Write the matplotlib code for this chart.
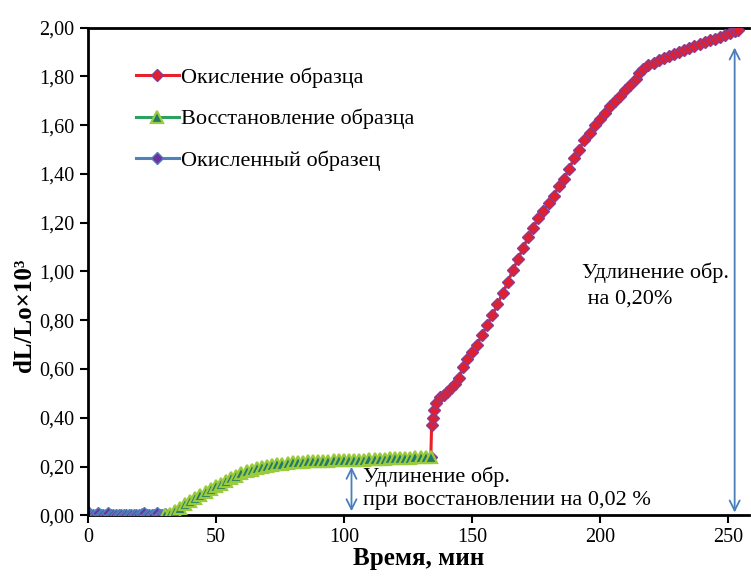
import matplotlib.pyplot as plt
from matplotlib.ticker import FuncFormatter, MultipleLocator

plt.rcParams['font.family'] = ['Liberation Serif', 'DejaVu Serif']

# oxidised sample (start)
t_ox0 = list(range(0, 31))
v_ox0 = [0.012, 0.0, 0.003, 0.0, 0.010, 0.0, 0.002, 0.0, 0.011, 0.0,
         0.0, 0.0, 0.0, 0.0, 0.0, 0.0, 0.0, 0.0, 0.0, 0.0,
         0.0, 0.004, 0.011, 0.0, 0.0, 0.0, 0.003, 0.010, 0.0, 0.0, 0.006]

# reduction
t_red = [30, 32, 34, 36, 38, 40, 42, 44, 46, 48, 50, 52, 54, 56, 58, 60, 62, 64,
         66, 68, 70, 72, 74, 76, 78, 80, 82, 84, 86, 88, 90, 92, 94, 96, 98, 100,
         102, 104, 106, 108, 110, 112, 114, 116, 118, 120, 122, 124, 126, 128,
         130, 132, 134]
v_red = [0.0, 0.007, 0.018, 0.030, 0.045, 0.058, 0.070, 0.082, 0.094, 0.106,
         0.118, 0.130, 0.142, 0.153, 0.163, 0.172, 0.180, 0.187, 0.193, 0.198,
         0.202, 0.206, 0.209, 0.212, 0.215, 0.217, 0.219, 0.220, 0.221, 0.222,
         0.223, 0.224, 0.224, 0.225, 0.225, 0.226, 0.226, 0.227, 0.228, 0.228,
         0.229, 0.230, 0.231, 0.232, 0.233, 0.233, 0.234, 0.235, 0.236, 0.237,
         0.238, 0.239, 0.240]

# oxidation
t_oxi = [134, 134.3, 134.8, 135.2, 136.2, 137.5, 139, 140.5, 142, 143.5, 145,
         146.6, 148, 150, 152, 154, 156, 158, 160, 162, 164, 166, 168, 170, 172,
         174, 176, 178, 180, 182, 184, 186, 188, 190, 192, 194, 196, 198, 200,
         202, 204, 206, 208, 210, 212, 214, 215.5, 217, 219, 221, 223, 225, 227,
         229, 231, 233, 235, 237, 239, 241, 243, 245, 247, 249, 251, 253, 254]
v_oxi = [0.24, 0.37, 0.40, 0.43, 0.46, 0.485, 0.495, 0.505, 0.52, 0.54, 0.565,
         0.61, 0.64, 0.67, 0.70, 0.74, 0.78, 0.82, 0.865, 0.91, 0.955, 1.005,
         1.05, 1.095, 1.14, 1.18, 1.22, 1.25, 1.28, 1.31, 1.35, 1.38, 1.42,
         1.465, 1.50, 1.54, 1.57, 1.60, 1.625, 1.65, 1.68, 1.70, 1.72, 1.745,
         1.765, 1.79, 1.815, 1.83, 1.845, 1.857, 1.867, 1.876, 1.885, 1.894,
         1.902, 1.91, 1.918, 1.925, 1.932, 1.94, 1.948, 1.955, 1.962, 1.97,
         1.978, 1.985, 1.99]

fig = plt.figure(figsize=(7.51, 5.77), dpi=100)
ax = fig.add_axes([0.117, 0.107, 0.881, 0.845])

ax.plot(t_oxi, v_oxi, color='#E8202A', lw=2.2, marker='D', ms=6.5,
        mfc='#E0202E', mec='#8E3A8E', mew=1.0, label='Окисление образца', zorder=3)
ax.plot(t_red, v_red, color='#2EA062', lw=2.2, marker='^', ms=8.5,
        mfc='#1F7A6B', mec='#9BCB3C', mew=1.6, label='Восстановление образца', zorder=4)
ax.plot(t_ox0, v_ox0, color='#4F81BD', lw=2.2, marker='D', ms=6.5,
        mfc='#7030A0', mec='#4F81BD', mew=1.0, label='Окисленный образец', zorder=3)

# annotations
arrow = dict(arrowstyle='<->', color='#4A7EBB', lw=1.3, mutation_scale=18)
ax.annotate('', xy=(103, 0.005), xytext=(103, 0.21), arrowprops=arrow)
ax.annotate('', xy=(252.7, 0.0), xytext=(252.7, 1.93), arrowprops=arrow)
ax.text(107.5, 0.16, 'Удлинение обр.', fontsize=16, va='center')
ax.text(107.5, 0.06, 'при восстановлении на 0,02 %', fontsize=16, va='center')
ax.text(193, 0.995, 'Удлинение обр.', fontsize=16, va='center')
ax.text(193, 0.885, ' на 0,20%', fontsize=16, va='center')

ax.set_xlim(0, 258.5)
ax.set_ylim(0, 2.0)
ax.xaxis.set_major_locator(MultipleLocator(50))
ax.yaxis.set_major_locator(MultipleLocator(0.2))
ax.yaxis.set_major_formatter(FuncFormatter(lambda v, p: f'{v:.2f}'.replace('.', ',')))
ax.tick_params(labelsize=14.5, direction='out', length=6, width=1.5)
for s in ['left', 'bottom', 'top']:
    ax.spines[s].set_linewidth(2)
ax.spines['right'].set_visible(False)
ax.spines['left'].set_zorder(5)

ax.set_xlabel('Время, мин', fontsize=18, fontweight='bold', labelpad=0)
ax.set_ylabel('dL/Lo×10³', fontsize=18, fontweight='bold')
ax.yaxis.set_label_coords(-0.078, 0.41)

leg = ax.legend(loc='upper left', bbox_to_anchor=(0.043, 0.96), frameon=False,
                fontsize=16, handlelength=1.9, handletextpad=0.1, labelspacing=0.95)

fig.savefig('out.png', dpi=100)
